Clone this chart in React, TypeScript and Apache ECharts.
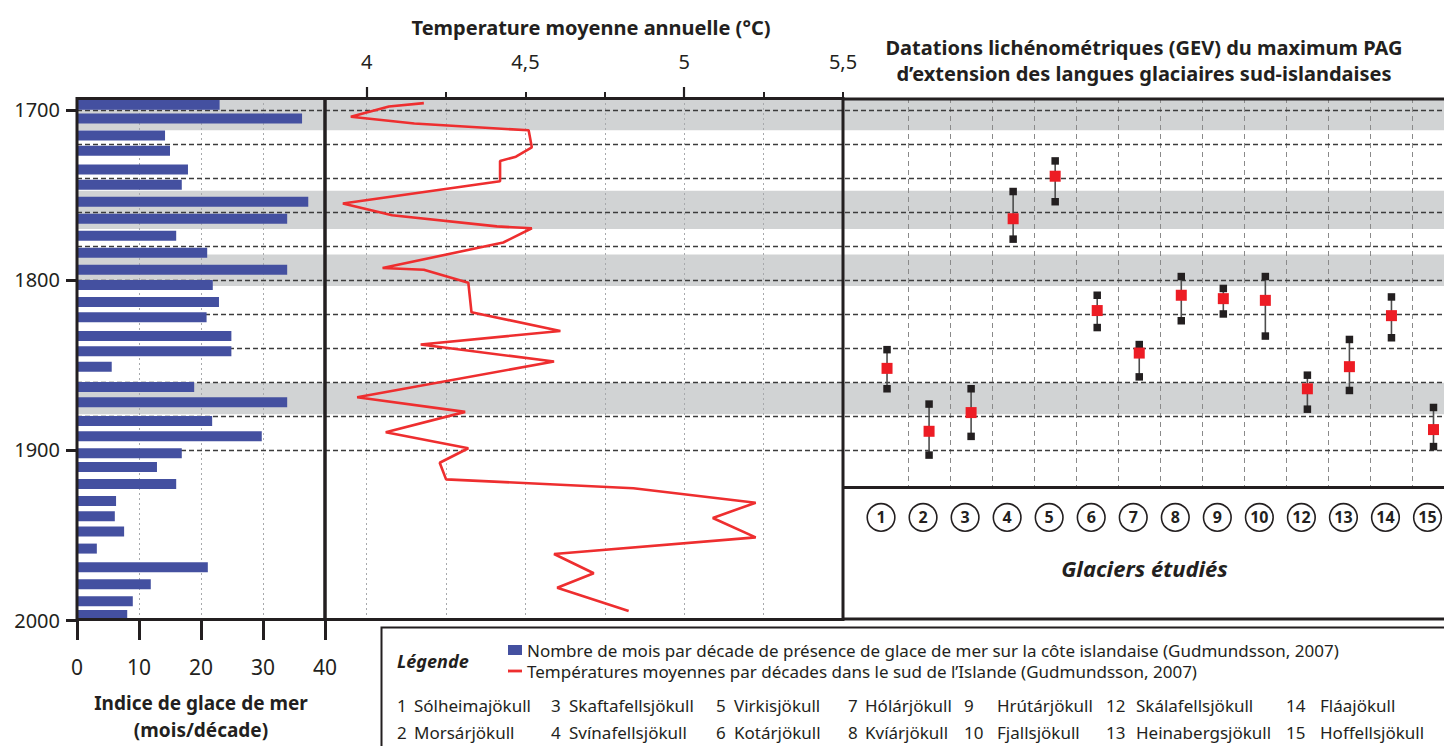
import React, { useEffect, useRef } from 'react';
import * as echarts from 'echarts';

const FONT = "'Noto Sans', 'DejaVu Sans', sans-serif";
const INK = '#231f20';
const ICE_COLOR = '#4450a0';
const TEMP_COLOR = '#ee2e2f';
const BAND_COLOR = '#d1d3d4';

// ---- data ----
const iceYears = [1697, 1705, 1715, 1724, 1735, 1744, 1754, 1764, 1774, 1784, 1794, 1803, 1813, 1822, 1833, 1842, 1851, 1863, 1872, 1883, 1892, 1902, 1910, 1920, 1930, 1939, 1948, 1958, 1969, 1979, 1989, 1997];
const iceMonths = [23, 36.3, 14.2, 15, 17.9, 16.9, 37.3, 33.9, 16, 21, 33.9, 21.9, 22.9, 20.9, 24.9, 24.9, 5.6, 18.9, 33.9, 21.8, 29.8, 16.9, 12.9, 16, 6.3, 6.1, 7.6, 3.2, 21.1, 11.9, 9, 8.1];

const tempYears = [1696, 1698, 1704, 1708, 1712, 1722, 1727.5, 1730, 1742, 1755, 1762, 1768.5, 1769.6, 1778, 1793, 1794, 1801.6, 1819, 1830, 1838, 1848, 1869, 1877.6, 1889.6, 1899, 1907.5, 1917.3, 1922.5, 1931, 1940, 1951.4, 1961.2, 1972.5, 1981, 1994.7];
const tempValues = [4.18, 4.07, 3.95, 4.15, 4.51, 4.52, 4.47, 4.42, 4.42, 3.925, 4.08, 4.41, 4.52, 4.43, 4.05, 4.18, 4.32, 4.33, 4.61, 4.17, 4.59, 3.97, 4.31, 4.06, 4.32, 4.23, 4.25, 4.84, 5.225, 5.09, 5.225, 4.59, 4.715, 4.6, 4.825];

const pagBands = [[1694, 1712], [1747.5, 1770], [1785, 1803.5], [1860.5, 1879]];
const refYears = [1700, 1720, 1740, 1760, 1780, 1800, 1820, 1840, 1860, 1880, 1900];
const yearTicks = [1700, 1800, 1900, 2000];
const tempTicks = [4, 4.25, 4.5, 4.75, 5, 5.25, 5.5];
const tempMajorTicks = [4, 5];
const tempLabels = [4, 4.5, 5, 5.5];
const tempGridLines = [4, 4.25, 4.5, 4.75, 5, 5.25];

const glacierIds = [1, 2, 3, 4, 5, 6, 7, 8, 9, 10, 12, 13, 14, 15];
const glacierNames = ['Sólheimajökull', 'Morsárjökull', 'Skaftafellsjökull', 'Svínafellsjökull', 'Virkisjökull', 'Kotárjökull', 'Hólárjökull', 'Kvíárjökull', 'Hrútárjökull', 'Fjallsjökull', 'Skálafellsjökull', 'Heinabergsjökull', 'Fláajökull', 'Hoffellsjökull'];
const glacierSlots = [1, 2, 3, 4, 5, 6, 7, 8, 9, 10, 11, 12, 13, 14];
const slotBounds = [1.5, 2.5, 3.5, 4.5, 5.5, 6.5, 7.5, 8.5, 9.5, 10.5, 11.5, 12.5, 13.5];
const gevMin = [1841, 1873, 1864, 1748, 1730, 1809, 1838, 1798, 1805, 1798, 1856, 1835, 1810, 1875];
const gevMean = [1852, 1889, 1878, 1764, 1739, 1818, 1843, 1809, 1811, 1812, 1864, 1851, 1821, 1888];
const gevMax = [1864, 1903, 1892, 1776, 1754, 1828, 1857, 1824, 1820, 1833, 1876, 1865, 1834, 1898];

const ICE_LABEL = 'Nombre de mois par décade de présence de glace de mer sur la côte islandaise (Gudmundsson, 2007)';
const TEMP_LABEL = 'Températures moyennes par décades dans le sud de l’Islande (Gudmundsson, 2007)';

const Y_MIN = 1693;
const Y_MAX = 2000;
const Y_MAX_GLACIER = 1922;

function txt(text: string, x: number, y: number, opts: any = {}) {
  const align = opts.align || 'left';
  return {
    type: 'text',
    x,
    y,
    z: 100,
    style: {
      text,
      fill: INK,
      fontFamily: FONT,
      fontSize: opts.fontSize || 16,
      fontWeight: opts.fontWeight || 'normal',
      fontStyle: opts.fontStyle || 'normal',
      align,
      textAlign: align,
      verticalAlign: 'middle',
      textVerticalAlign: 'middle',
    },
  };
}

function buildOption(): any {
  const numX = [397, 551, 716, 848, 964, 1106, 1286];
  const nameX = [414, 569, 734, 865, 997, 1136, 1320];
  const rowY = [705, 732];
  const list: any[] = [];
  for (let c = 0; c < 7; c++) {
    for (let r = 0; r < 2; r++) {
      const i = c * 2 + r;
      list.push(txt(String(glacierIds[i]), numX[c], rowY[r], { fontSize: 17 }));
      list.push(txt(glacierNames[i], nameX[c], rowY[r], { fontSize: 17 }));
    }
  }

  const frame = (shape: any, lw = 3) => ({ type: 'rect', z: 100, silent: true, shape, style: { fill: 'none', stroke: INK, lineWidth: lw } });
  const hline = (x1: number, x2: number, y: number, lw = 3) => ({ type: 'line', z: 100, silent: true, shape: { x1, y1: y, x2, y2: y }, style: { stroke: INK, lineWidth: lw } });

  const graphic = [
    frame({ x: 77, y: 98.5, width: 248, height: 521 }),
    frame({ x: 325, y: 98.5, width: 518, height: 521 }),
    hline(843, 1444, 99),
    hline(843, 1444, 487.5),
    hline(843, 1444, 619),
    frame({ x: 381.5, y: 627.5, width: 1100, height: 140 }, 2),
    txt('Temperature moyenne annuelle (°C)', 591, 27, { fontSize: 20, fontWeight: 'bold', align: 'center' }),
    txt('Datations lichénométriques (GEV) du maximum PAG', 1144, 47, { fontSize: 20, fontWeight: 'bold', align: 'center' }),
    txt('d’extension des langues glaciaires sud-islandaises', 1144, 73, { fontSize: 20, fontWeight: 'bold', align: 'center' }),
    txt('Légende', 397, 661, { fontSize: 18, fontWeight: 'bold', fontStyle: 'italic' }),
    ...list,
  ];

  return {
    animation: false,
    backgroundColor: '#ffffff',
    textStyle: { fontFamily: FONT, color: INK },
    legend: {
      orient: 'vertical',
      left: 508,
      top: 640,
      padding: 0,
      itemWidth: 14,
      itemHeight: 10,
      itemGap: 1,
      selectedMode: false,
      symbolKeepAspect: true,
      textStyle: { fontFamily: FONT, fontSize: 17, color: INK, lineHeight: 20 },
      data: [
        { name: ICE_LABEL, icon: 'rect' },
        { name: TEMP_LABEL, icon: 'path://M0 0H14V2.8H0Z' },
      ],
    },
    grid: [
      { left: 77, top: 98, width: 248, height: 522, outerBoundsMode: 'none' },
      { left: 327, top: 98, width: 516, height: 522, outerBoundsMode: 'none' },
      { left: 845, top: 98, width: 599, height: 389.4, outerBoundsMode: 'none' },
      { left: 77, top: 98, width: 1367, height: 522, outerBoundsMode: 'none' },
    ],
    xAxis: [
      {
        gridIndex: 0, type: 'value', min: 0, max: 40, interval: 10, position: 'bottom', z: 2,
        axisLine: { show: false },
        axisTick: { show: true, length: 20, lineStyle: { color: INK, width: 3 } },
        axisLabel: { fontSize: 21, color: INK, margin: 36, fontFamily: FONT },
        splitLine: { show: true, showMinLine: false, showMaxLine: false, lineStyle: { color: '#a7a9ac', type: [2, 3], width: 1 } },
        name: 'Indice de glace de mer\n(mois/décade)',
        nameLocation: 'middle',
        nameGap: 69,
        nameTextStyle: { fontWeight: 'bold', fontSize: 19, lineHeight: 27, color: INK, fontFamily: FONT },
      },
      {
        gridIndex: 1, type: 'value', min: 3.875, max: 5.5, position: 'top', z: 2,
        axisLine: { show: false },
        axisTick: { show: true, customValues: tempTicks, length: 6, lineStyle: { color: INK, width: 2 } },
        axisLabel: { customValues: tempLabels, fontSize: 20, color: INK, margin: 27, fontFamily: FONT, formatter: (v: number) => String(v).replace('.', ',') },
        splitLine: { show: false },
      },
      {
        gridIndex: 1, type: 'value', min: 3.875, max: 5.5, position: 'top', z: 2,
        axisLine: { show: false },
        axisTick: { show: true, customValues: tempMajorTicks, length: 11, lineStyle: { color: INK, width: 2.2 } },
        axisLabel: { show: false },
        splitLine: { show: false },
      },
      {
        gridIndex: 2, type: 'value', min: 0, max: 14.25, position: 'bottom', z: 2,
        axisLine: { show: false },
        axisTick: { show: false },
        splitLine: { show: false },
        axisLabel: {
          customValues: glacierSlots,
          margin: 17,
          padding: [0, 12, 0, 0],
          formatter: (v: number) => `{c|${glacierIds[Math.round(v) - 1]}}`,
          rich: {
            c: {
              width: 26, height: 26, lineHeight: 26, borderRadius: 13,
              borderColor: INK, borderWidth: 1.6, align: 'center', verticalAlign: 'middle',
              fontWeight: 'bold', fontSize: 16, color: INK, fontFamily: FONT, backgroundColor: '#fff',
            },
          },
        },
        name: 'Glaciers étudiés',
        nameLocation: 'middle',
        nameGap: 70,
        nameTextStyle: { fontWeight: 'bold', fontStyle: 'italic', fontSize: 22, color: INK, fontFamily: FONT },
      },
      { gridIndex: 3, type: 'value', min: 0, max: 1, show: false },
    ],
    yAxis: [
      {
        gridIndex: 0, type: 'value', min: Y_MIN, max: Y_MAX, inverse: true, position: 'left', z: 2,
        axisLine: { show: false },
        axisTick: { show: true, customValues: yearTicks, length: 11, lineStyle: { color: INK, width: 3 } },
        axisLabel: { customValues: yearTicks, fontSize: 20, color: INK, margin: 17, fontFamily: FONT, formatter: (v: number) => String(v) },
        splitLine: { show: false },
      },
      { gridIndex: 1, type: 'value', min: Y_MIN, max: Y_MAX, inverse: true, show: false },
      { gridIndex: 2, type: 'value', min: Y_MIN, max: Y_MAX_GLACIER, inverse: true, show: false },
      { gridIndex: 3, type: 'value', min: Y_MIN, max: Y_MAX, inverse: true, show: false },
    ],
    series: [
      {
        name: 'fond',
        type: 'line', xAxisIndex: 4, yAxisIndex: 3, data: [], silent: true, z: 1,
        markArea: {
          silent: true, z: 1,
          itemStyle: { color: BAND_COLOR },
          label: { show: false },
          data: pagBands.map(([a, b]) => [{ yAxis: a }, { yAxis: b }]),
        },
        markLine: {
          silent: true, z: 3, symbol: ['none', 'none'], label: { show: false },
          lineStyle: { color: '#3c3c3c', type: [5, 3], width: 1.3 },
          emphasis: { disabled: true },
          data: refYears.map((y) => ({ yAxis: y })),
        },
      },
      {
        name: ICE_LABEL,
        type: 'custom', xAxisIndex: 0, yAxisIndex: 0, z: 10,
        itemStyle: { color: ICE_COLOR },
        encode: { x: 0, y: 1 },
        data: iceMonths.map((m, i) => [m, iceYears[i]]),
        renderItem: (params: any, api: any) => {
          const v = api.value(0);
          const yr = api.value(1);
          const s = api.coord([0, yr]);
          const e = api.coord([v, yr]);
          return {
            type: 'rect',
            shape: { x: s[0], y: s[1] - 5, width: e[0] - s[0], height: 10 },
            style: { fill: ICE_COLOR },
          };
        },
      },
      {
        name: TEMP_LABEL,
        type: 'line', xAxisIndex: 1, yAxisIndex: 1, z: 10,
        symbol: 'none',
        lineStyle: { color: TEMP_COLOR, width: 2.6 },
        itemStyle: { color: TEMP_COLOR },
        data: tempValues.map((t, i) => [t, tempYears[i]]),
        markLine: {
          silent: true, z: 2, symbol: ['none', 'none'], label: { show: false },
          lineStyle: { color: '#a7a9ac', type: [2, 3], width: 1 },
          emphasis: { disabled: true },
          data: tempGridLines.map((t) => ({ xAxis: t })),
        },
      },
      {
        name: 'GEV',
        type: 'custom', xAxisIndex: 3, yAxisIndex: 2, z: 10,
        encode: { x: 0, y: [1, 2] },
        data: glacierSlots.map((x, i) => [x, gevMin[i], gevMax[i]]),
        renderItem: (params: any, api: any) => {
          const x = api.value(0);
          const a = api.coord([x, api.value(1)]);
          const b = api.coord([x, api.value(2)]);
          const s = 7.5;
          return {
            type: 'group',
            children: [
              { type: 'line', shape: { x1: a[0], y1: a[1], x2: b[0], y2: b[1] }, style: { stroke: '#4d4d4d', lineWidth: 1.6 } },
              { type: 'rect', shape: { x: a[0] - s / 2, y: a[1] - s / 2, width: s, height: s }, style: { fill: INK } },
              { type: 'rect', shape: { x: b[0] - s / 2, y: b[1] - s / 2, width: s, height: s }, style: { fill: INK } },
            ],
          };
        },
      },
      {
        name: 'GEV moyenne',
        type: 'scatter', xAxisIndex: 3, yAxisIndex: 2, z: 11,
        symbol: 'rect', symbolSize: 11,
        itemStyle: { color: '#ed1c24', opacity: 1 },
        data: glacierSlots.map((x, i) => [x, gevMean[i]]),
        markLine: {
          silent: true, z: 2, symbol: ['none', 'none'], label: { show: false },
          lineStyle: { color: '#8a8a8a', type: [5, 4], width: 1 },
          emphasis: { disabled: true },
          data: slotBounds.map((x) => ({ xAxis: x })),
        },
      },
    ],
    graphic,
  };
}

export default function App() {
  const ref = useRef<HTMLDivElement>(null);
  useEffect(() => {
    if (!ref.current) return;
    const chart = echarts.init(ref.current, null, { renderer: 'svg' });
    chart.setOption(buildOption());
    return () => chart.dispose();
  }, []);
  return (
    <div
      ref={ref}
      style={{ position: 'fixed', left: 0, top: 0, width: 1444, height: 746, background: '#fff' }}
    />
  );
}
